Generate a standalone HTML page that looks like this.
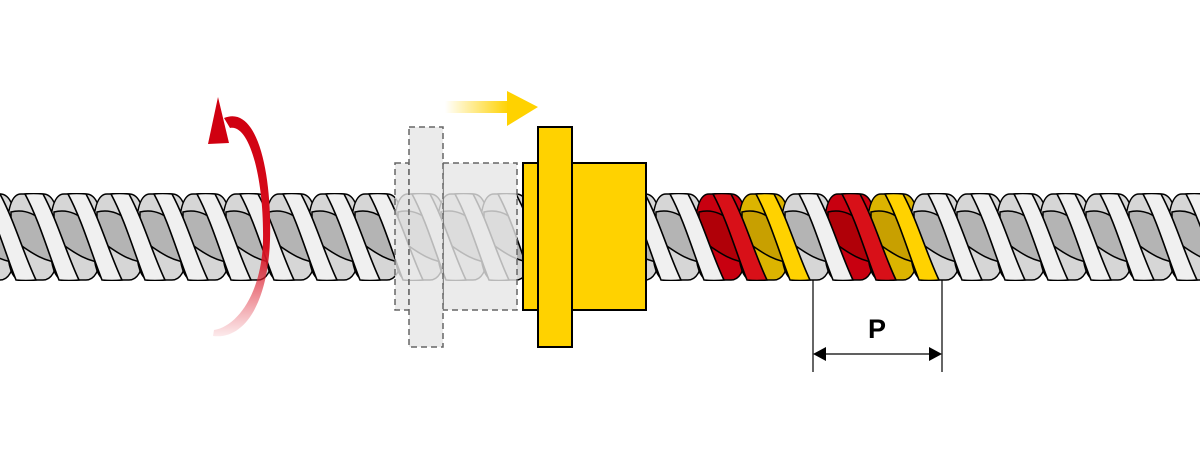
<!DOCTYPE html>
<html><head><meta charset="utf-8"><style>html,body{margin:0;padding:0;background:#fff;width:1200px;height:464px;overflow:hidden}</style></head>
<body>
<svg id="s" width="1200" height="464" viewBox="0 0 1200 464" xmlns="http://www.w3.org/2000/svg">
<defs>
<linearGradient id="ya" x1="0" x2="1" y1="0" y2="0"><stop offset="0" stop-color="#ffd200" stop-opacity="0"/><stop offset="1" stop-color="#ffd200"/></linearGradient>
<linearGradient id="ra" x1="0" x2="0" y1="0" y2="1"><stop offset="0" stop-color="#d00010"/><stop offset="0.6" stop-color="#d81020"/><stop offset="1" stop-color="#e03040" stop-opacity="0.1"/></linearGradient>
<clipPath id="cl"><rect x="0" y="193" width="1200" height="88"/></clipPath>
</defs>
<g id="thread"></g>
<g fill="#e6e6e6" fill-opacity="0.8" stroke="#666" stroke-width="1.5" stroke-dasharray="6,4">
<rect x="395" y="163" width="14" height="147"/>
<rect x="443" y="163" width="74" height="147"/>
<rect x="409" y="127" width="34" height="220"/>
</g>
<g fill="#ffd200" stroke="#000" stroke-width="2">
<rect x="523" y="163" width="15" height="147"/>
<rect x="572" y="163" width="74" height="147"/>
<rect x="538" y="127" width="34" height="220"/>
</g>
<rect x="445" y="101" width="64" height="12" fill="url(#ya)"/>
<polygon points="507,91 538,107 507,126" fill="#ffd200"/>
<path d="M224,118 C258,104 272,175 270,240 C268,300 246,340 213,336 L214,330 C238,326 262,292 263,240 C264,180 250,124 230,128 Z" fill="url(#ra)"/>
<polygon points="218,97 208,144 229,143" fill="#d00010"/>
<g stroke="#000" stroke-width="1.2">
<line x1="813" y1="280" x2="813" y2="372"/>
<line x1="942" y1="280" x2="942" y2="372"/>
<line x1="822" y1="354" x2="933" y2="354"/>
</g>
<polygon points="813,354 826,347 826,361" fill="#000"/>
<polygon points="942,354 929,347 929,361" fill="#000"/>
<text x="877" y="338" font-family="Liberation Sans, sans-serif" font-weight="bold" font-size="27" text-anchor="middle">P</text>
</svg>
<script>
var g=document.getElementById('thread'),A='',B='',C='';
for(var i=-2;i<29;i++){
 var x=7+43*i,c='#d6d6d6',d='#b4b4b4',w='#f0f0f0';
 if(x==695||x==824){c='#c80010';d='#b00008';w='#d81018';}
 if(x==738||x==867){c='#dcb400';d='#c8a000';w='#ffd200';}
 A+='<path d="M'+(x+14)+',194 L'+(x+36)+',194 Q'+(x+52)+',194 '+(x+52)+',237 Q'+(x+52)+',280 '+(x+36)+',280 L'+(x+14)+',280 Q'+x+',280 '+x+',237 Q'+x+',194 '+(x+14)+',194Z" fill="'+c+'" stroke="#000" stroke-width="1.5"/>';
 B+='<path d="M'+(x+4)+',212 C'+(x+28)+',206 '+(x+48)+',228 '+(x+62)+',262 C'+(x+40)+',266 '+(x+20)+',250 '+(x+4)+',238Z" fill="'+d+'" stroke="#000" stroke-width="1.5"/>';
 C+='<path d="M'+(x+18)+',194 Q'+(x+26)+',193 '+(x+36)+',194 C'+(x+50)+',220 '+(x+60)+',255 '+(x+72)+',280 Q'+(x+62)+',281 '+(x+52)+',280 C'+(x+42)+',255 '+(x+32)+',220 '+(x+18)+',194Z" fill="'+w+'" stroke="#000" stroke-width="1.6"/>';
}
g.innerHTML='<g clip-path="url(#cl)">'+A+B+C+'</g>';
</script>
</body></html>
